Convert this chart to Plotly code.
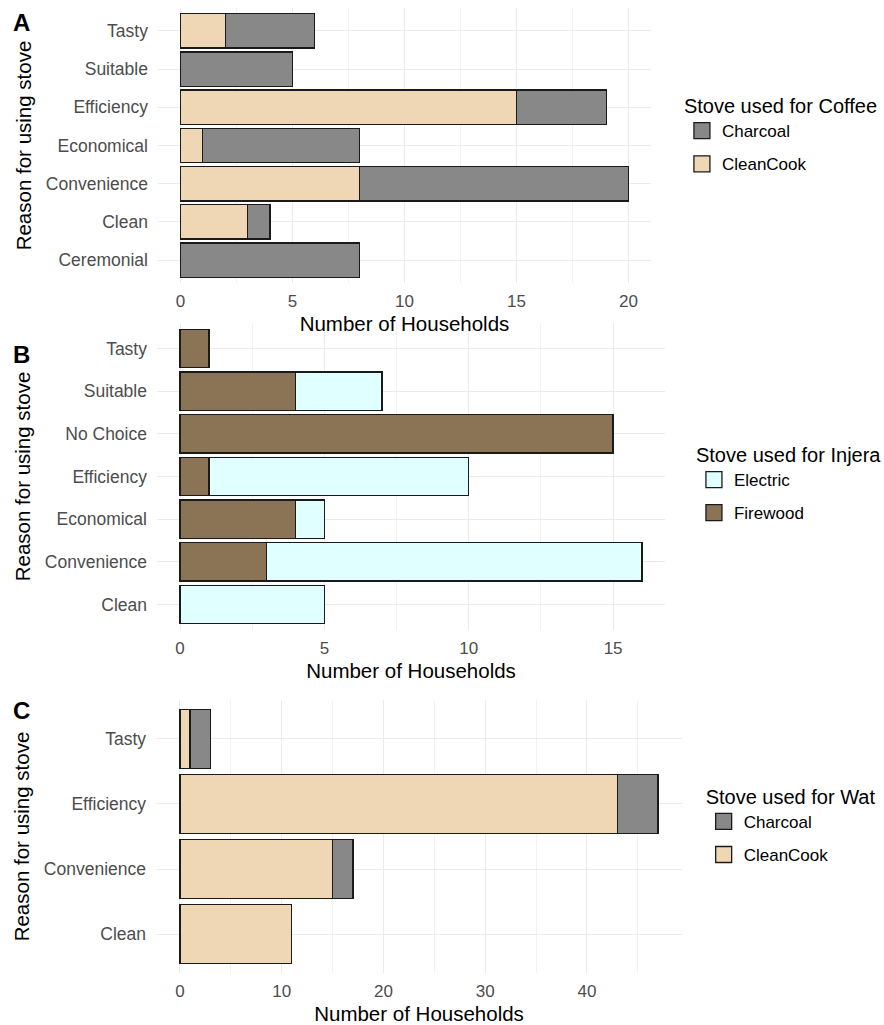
import plotly.graph_objects as go

# ---------------- data ----------------
coffee_reasons = ["Ceremonial", "Clean", "Convenience", "Economical", "Efficiency", "Suitable", "Tasty"]
coffee_cleancook = [0, 3, 8, 1, 15, 0, 2]
coffee_charcoal = [8, 1, 12, 7, 4, 5, 4]

injera_reasons = ["Clean", "Convenience", "Economical", "Efficiency", "No Choice", "Suitable", "Tasty"]
injera_firewood = [0, 3, 4, 1, 15, 4, 1]
injera_electric = [5, 13, 1, 9, 0, 3, 0]

wat_reasons = ["Clean", "Convenience", "Efficiency", "Tasty"]
wat_cleancook = [11, 15, 43, 1]
wat_charcoal = [0, 2, 4, 2]

ticks_a = [0, 5, 10, 15, 20]
ticks_b = [0, 5, 10, 15]
ticks_c = [0, 10, 20, 30, 40]

# ---------------- style ----------------
C_CHARCOAL = "#888888"
C_CLEANCOOK = "#EFD7B6"
C_ELECTRIC = "#E0FFFF"
C_FIREWOOD = "#8B7355"
FONT = "Liberation Sans, Arial, sans-serif"


def nz(vals):
    return [v if v else None for v in vals]


fig = go.Figure()


def add_bars(cats, vals, name, color, xa, ya, leg):
    fig.add_trace(go.Bar(
        y=cats, x=nz(vals), orientation="h", name=name,
        marker=dict(color=color, line=dict(color="#1a1a1a", width=1.3)),
        xaxis=xa, yaxis=ya, showlegend=False, legendgroup=leg + name,
    ))


def add_legend_key(name, color, xa, ya, leg):
    fig.add_trace(go.Scatter(
        x=[None], y=[None], mode="markers", name=name,
        marker=dict(symbol="square", size=22, color=color,
                    line=dict(color="#1a1a1a", width=1.3)),
        xaxis=xa, yaxis=ya, legend=leg, legendgroup=leg + name, showlegend=True,
    ))


# Panel A: Coffee
add_bars(coffee_reasons, coffee_cleancook, "CleanCook", C_CLEANCOOK, "x", "y", "legend")
add_bars(coffee_reasons, coffee_charcoal, "Charcoal", C_CHARCOAL, "x", "y", "legend")
add_legend_key("Charcoal", C_CHARCOAL, "x", "y", "legend")
add_legend_key("CleanCook", C_CLEANCOOK, "x", "y", "legend")

# Panel B: Injera
add_bars(injera_reasons, injera_firewood, "Firewood", C_FIREWOOD, "x2", "y2", "legend2")
add_bars(injera_reasons, injera_electric, "Electric", C_ELECTRIC, "x2", "y2", "legend2")
add_legend_key("Electric", C_ELECTRIC, "x2", "y2", "legend2")
add_legend_key("Firewood", C_FIREWOOD, "x2", "y2", "legend2")

# Panel C: Wat
add_bars(wat_reasons, wat_cleancook, "CleanCook", C_CLEANCOOK, "x3", "y3", "legend3")
add_bars(wat_reasons, wat_charcoal, "Charcoal", C_CHARCOAL, "x3", "y3", "legend3")
add_legend_key("Charcoal", C_CHARCOAL, "x3", "y3", "legend3")
add_legend_key("CleanCook", C_CLEANCOOK, "x3", "y3", "legend3")


def xaxis(domain, rng, ticks, anchor):
    step = ticks[1] - ticks[0]
    return dict(
        domain=domain, range=rng, anchor=anchor, tickvals=ticks,
        showline=False, zeroline=False, ticks="", automargin=False,
        showgrid=True, gridcolor="#EBEBEB", gridwidth=1.1,
        minor=dict(dtick=step / 2, tick0=0, showgrid=True, gridcolor="#F2F2F2", gridwidth=0.7),
        tickfont=dict(family=FONT, size=17, color="#4D4D4D"),
        ticklabelstandoff=6,
        title=dict(text="Number of Households", font=dict(family=FONT, size=20.5, color="#000000"),
                   standoff=6),
        fixedrange=True,
    )


def yaxis(domain, cats, anchor):
    return dict(
        domain=domain, anchor=anchor, type="category",
        categoryorder="array", categoryarray=cats,
        range=[-0.6, len(cats) - 0.4],
        showline=False, zeroline=False, ticks="", automargin=False,
        showgrid=True, gridcolor="#EBEBEB", gridwidth=1.1,
        tickfont=dict(family=FONT, size=17.5, color="#4D4D4D"),
        ticklabelstandoff=9,
        title=dict(text="Reason for using stove", font=dict(family=FONT, size=20.5, color="#000000"),
                   standoff=8),
        fixedrange=True,
    )


def legend(x, y, title):
    return dict(
        x=x, y=y, xanchor="left", yanchor="top",
        title=dict(text=title, font=dict(family=FONT, size=20, color="#000000")),
        font=dict(family=FONT, size=17, color="#000000"),
        bgcolor="rgba(0,0,0,0)", itemsizing="trace", traceorder="grouped",
        tracegroupgap=8,
    )


fig.update_layout(
    width=884, height=1025,
    margin=dict(l=0, r=0, t=0, b=0),
    paper_bgcolor="white", plot_bgcolor="white",
    barmode="stack", bargap=0.1,
    xaxis=xaxis([0.1787, 0.7364], [-1, 21], ticks_a, "y"),
    yaxis=yaxis([0.7239, 0.9922], coffee_reasons, "x"),
    xaxis2=xaxis([0.1776, 0.7523], [-0.8, 16.8], ticks_b, "y2"),
    yaxis2=yaxis([0.3854, 0.6849], injera_reasons, "x2"),
    xaxis3=xaxis([0.1765, 0.7715], [-2.35, 49.35], ticks_c, "y3"),
    yaxis3=yaxis([0.0507, 0.3171], wat_reasons, "x3"),
    legend=legend(0.7714, 0.915, "Stove used for Coffee"),
    legend2=legend(0.785, 0.5746, "Stove used for Injera"),
    legend3=legend(0.796, 0.2411, "Stove used for Wat"),
    showlegend=True,
    annotations=[
        dict(text="<b>A</b>", x=0.012, y=0.993, xref="paper", yref="paper",
             xanchor="left", yanchor="top", showarrow=False,
             font=dict(family=FONT, size=24, color="#000000")),
        dict(text="<b>B</b>", x=0.012, y=0.669, xref="paper", yref="paper",
             xanchor="left", yanchor="top", showarrow=False,
             font=dict(family=FONT, size=24, color="#000000")),
        dict(text="<b>C</b>", x=0.012, y=0.322, xref="paper", yref="paper",
             xanchor="left", yanchor="top", showarrow=False,
             font=dict(family=FONT, size=24, color="#000000")),
    ],
)

fig.write_html(
    "out.html",
    config={"displayModeBar": False},
    post_script="document.body.style.margin='0';document.body.style.overflow='hidden';",
)
